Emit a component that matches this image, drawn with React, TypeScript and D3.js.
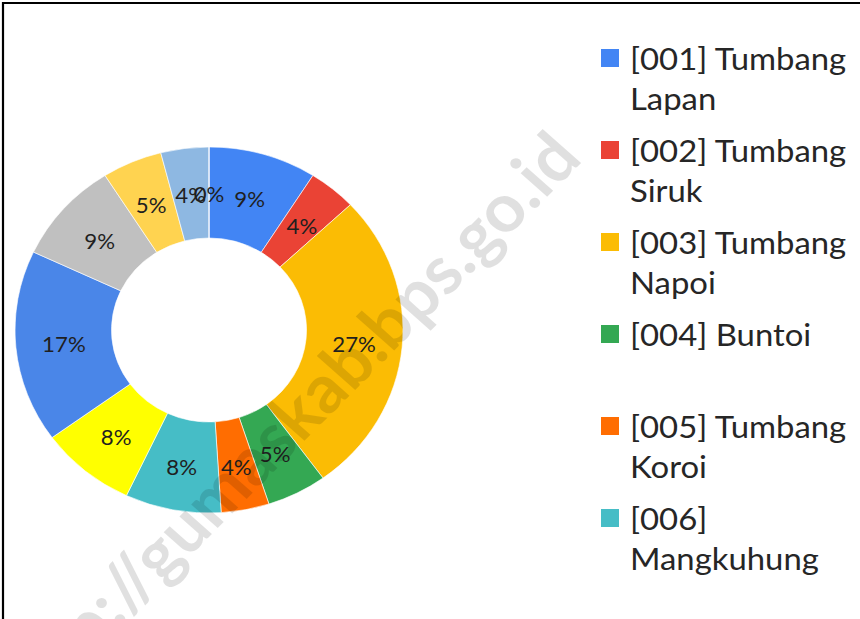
import React from 'react';
import * as d3 from 'd3';

const categories = ['[001]', '[002]', '[003]', '[004]', '[005]', '[006]', '[007]', '[008]', '[009]', '[010]', '[011]', '[012]'];
const legendLabels = [
  ['[001] Tumbang', 'Lapan'],
  ['[002] Tumbang', 'Siruk'],
  ['[003] Tumbang', 'Napoi'],
  ['[004] Buntoi'],
  ['[005] Tumbang', 'Koroi'],
  ['[006]', 'Mangkuhung'],
];
const shares = [9, 4, 27, 5, 4, 8, 8, 17, 9, 5, 4, 0];
const colors = ['#4285F4', '#EA4335', '#FBBC04', '#34A853', '#FF6D01', '#46BDC6', '#FFFF00', '#4A86E8', '#C0C0C0', '#FFD350', '#8EB8E2', '#B7B7B7'];
const watermark = 'http://gumaskab.bps.go.id';

const W = 860;
const H = 619;
const SX = 1.06;
const CX = 209;
const CY = 330;
const R = 183;
const RI = 92;

export default function App() {
  const pie = d3.pie<number>().sort(null).value((d) => d);
  const arcs = pie(shares);
  const arc = d3.arc<d3.PieArcDatum<number>>().innerRadius(RI).outerRadius(R);
  const total = d3.sum(shares);
  const fmt = (v: number) => `${Math.round((v / total) * 100)}%`;
  const font = 'Lato, "Open Sans", sans-serif';

  return (
    <svg width={W} height={H} style={{ position: 'absolute', left: 0, top: 0, background: '#fff' }}>
      <rect x={0} y={0} width={W} height={H} fill="#fff" />
      <g transform={`translate(${CX},${CY}) scale(${SX},1)`}>
        {arcs.map((a, i) => (
          <path key={categories[i]} d={arc(a) || ''} fill={colors[i]} stroke="#fff" strokeWidth={0.6} />
        ))}
        {arcs.map((a, i) => {
          const [x, y] = arc.centroid(a);
          return (
            <text key={'l' + i} x={x} y={y} dy="0.45em" textAnchor="middle" fontFamily={font} fontSize={21} fill="#1f1f1f">
              {fmt(a.data)}
            </text>
          );
        })}
      </g>
      <g>
        {legendLabels.map((lines, i) => {
          const base = 70 + i * 92;
          return (
            <g key={'lg' + i}>
              <rect x={601} y={base - 21} width={18} height={18} fill={colors[i]} />
              {lines.map((t, j) => (
                <text key={j} transform={`translate(630,${base + j * 39.5}) scale(${SX},1)`} fontFamily={font} fontSize={31} fill="#262626">
                  {t}
                </text>
              ))}
            </g>
          );
        })}
      </g>
      <text
        transform={`translate(584,160) scale(${SX},1) rotate(-46.8)`}
        textAnchor="end"
        fontFamily={font}
        fontWeight={700}
        fontSize={67}
        fill="#000"
        fillOpacity={0.12}
      >
        {watermark}
      </text>
      <path d={`M3,${H} V3 H${W}`} fill="none" stroke="#000" strokeWidth={2.2} />
    </svg>
  );
}
